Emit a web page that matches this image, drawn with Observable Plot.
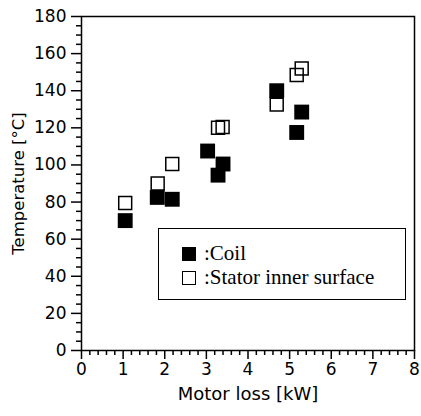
<!DOCTYPE html>
<html>
<head>
<meta charset="utf-8">
<script src="https://cdn.jsdelivr.net/npm/d3@7"></script>
<script src="https://cdn.jsdelivr.net/npm/@observablehq/plot@0.6"></script>
<style>
  html, body { margin: 0; padding: 0; background: white; }
  #wrap { position: relative; width: 421px; height: 416px; }
  #legend {
    position: absolute; left: 158px; top: 228px; width: 246px; height: 70px;
    border: 1.5px solid black; background: white;
    font-family: "Liberation Serif", serif; font-size: 21px; color: black;
  }
  .row { position: absolute; left: 23px; white-space: nowrap; line-height: 21px; }
  .sw { display: inline-block; box-sizing: border-box; width: 14px; height: 14px; vertical-align: -1px; margin-right: 8px; }
</style>
</head>
<body>
<div id="wrap"></div>
<script>
// Data
const coilLoss   = [1.05, 1.82, 2.18, 3.03, 3.28, 3.40, 4.69, 5.17, 5.29];
const coilTemp   = [70, 82.5, 81.5, 107.5, 94.5, 100.5, 140, 117.5, 128.5];
const statorLoss = [1.05, 1.83, 2.18, 3.28, 3.39, 4.69, 5.17, 5.29];
const statorTemp = [79.5, 90, 100.5, 120, 120.5, 132.5, 148.5, 152];

const xTicks = [0, 1, 2, 3, 4, 5, 6, 7, 8];
const yTicks = [0, 20, 40, 60, 80, 100, 120, 140, 160, 180];
const xMinor = d3.range(0, 41).map(i => i / 5).filter(v => !xTicks.includes(v));
const yMinor = d3.range(0, 37).map(i => i * 5).filter(v => !yTicks.includes(v));

const xTitle = "Motor loss [kW]";
const yTitle = "Temperature [°C]";

const legendItems = [
  {label: "Coil", filled: true},
  {label: "Stator inner surface", filled: false}
];

const coil = coilLoss.map((x, i) => ({x, y: coilTemp[i]}));
const stator = statorLoss.map((x, i) => ({x, y: statorTemp[i]}));

const chart = Plot.plot({
  width: 421,
  height: 416,
  marginLeft: 81,
  marginRight: 7,
  marginTop: 16,
  marginBottom: 66,
  x: {domain: [0, 8]},
  y: {domain: [0, 180]},
  style: {fontFamily: "DejaVu Sans", fontSize: "17px", color: "black", background: "white"},
  marks: [
    Plot.axisY(yMinor, {tickSize: 5, text: null, label: null, strokeWidth: 1.5}),
    Plot.axisY(yTicks, {tickSize: 10, tickPadding: 5, strokeWidth: 1.5, label: null}),
    Plot.axisY([], {tickSize: 0, fontSize: 16.5, label: yTitle, labelArrow: "none",
      labelAnchor: "center", labelOffset: 69, dy: -5}),
    Plot.axisX(xMinor, {tickSize: 5, text: null, label: null, strokeWidth: 1.5}),
    Plot.axisX(xTicks, {tickSize: 9, tickPadding: 3, strokeWidth: 1.5, label: null}),
    Plot.axisX([], {tickSize: 0, fontSize: 18, label: xTitle, labelArrow: "none",
      labelAnchor: "center", labelOffset: 49}),
    Plot.frame({stroke: "black", strokeWidth: 1.5}),
    Plot.dot(stator, {x: "x", y: "y", symbol: "square", r: 7.3, stroke: "black", strokeWidth: 1.5, fill: "none"}),
    Plot.dot(coil, {x: "x", y: "y", symbol: "square", r: 8.4, fill: "black", stroke: "none"})
  ]
});

const wrap = document.getElementById("wrap");
wrap.appendChild(chart);
chart.style.position = "absolute";
chart.style.left = "0";
chart.style.top = "0";

const legend = document.createElement("div");
legend.id = "legend";
legendItems.forEach((it, i) => {
  const row = document.createElement("div");
  row.className = "row";
  row.style.top = (14 + i * 24) + "px";
  const sw = document.createElement("span");
  sw.className = "sw";
  if (it.filled) { sw.style.background = "black"; }
  else { sw.style.border = "1.5px solid black"; }
  row.appendChild(sw);
  row.appendChild(document.createTextNode(":" + it.label));
  legend.appendChild(row);
});
wrap.appendChild(legend);
</script>
</body>
</html>
